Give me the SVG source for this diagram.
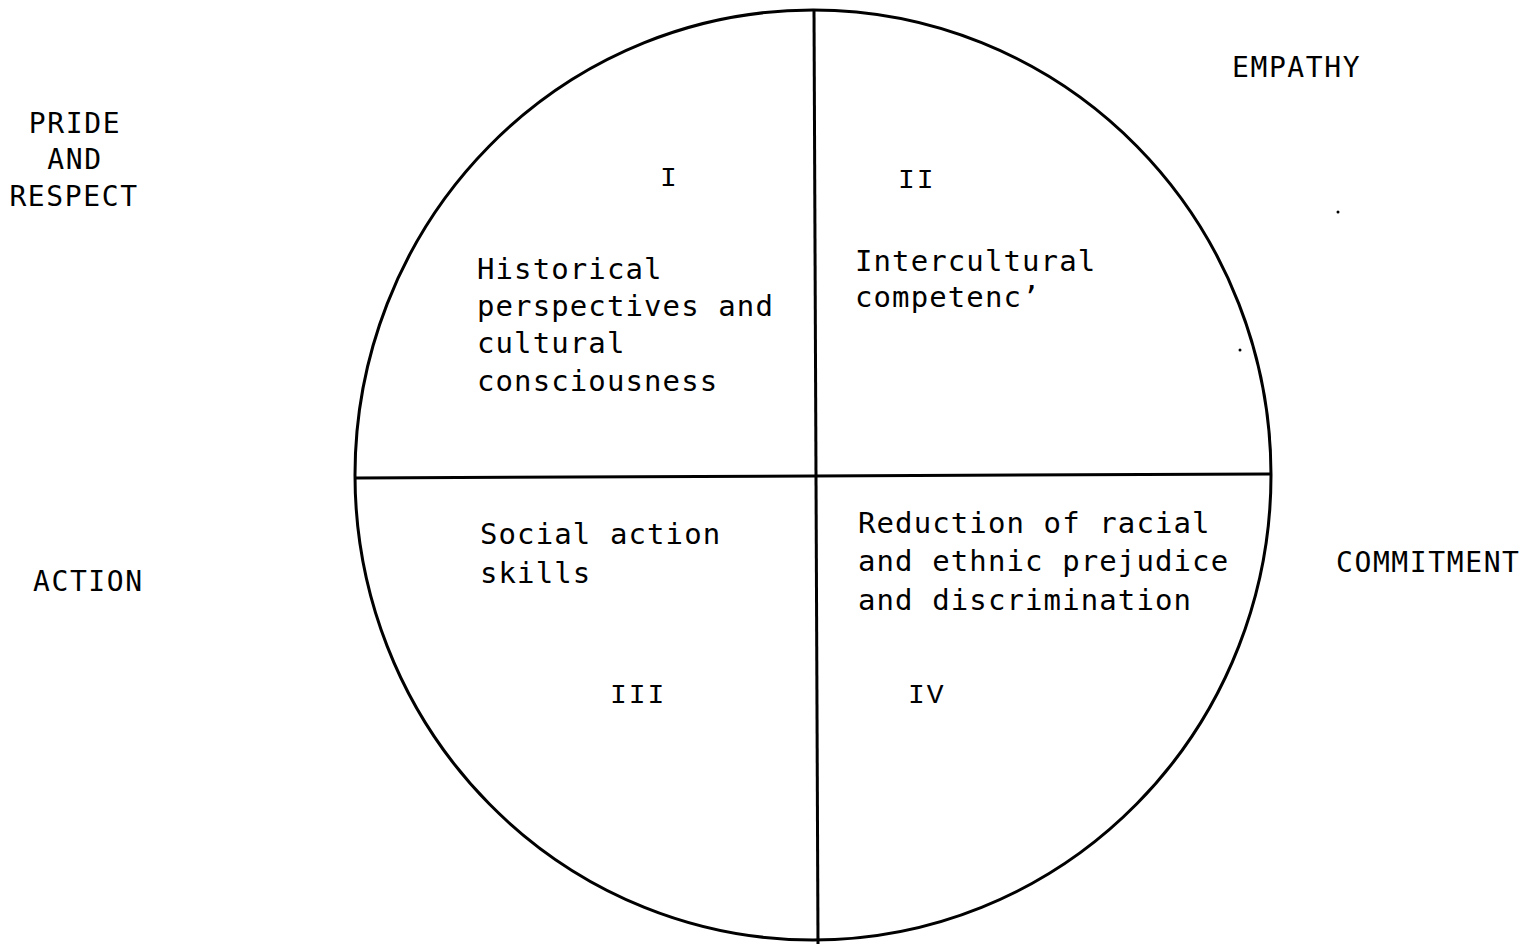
<svg xmlns="http://www.w3.org/2000/svg" width="1539" height="944" viewBox="0 0 1539 944">
<style>
.ln{fill:none;stroke:#000;stroke-width:3}
.t{font-family:"DejaVu Sans Mono","Liberation Mono",monospace;font-size:29px;letter-spacing:1.1px;fill:#000}
.c{font-family:"DejaVu Sans Mono","Liberation Mono",monospace;font-size:28px;letter-spacing:1.6px;fill:#000}
.r{font-family:"Liberation Mono","Courier New",monospace;font-size:28px;letter-spacing:2px;fill:#000}
</style>
<rect width="1539" height="944" fill="#fff"/>
<g id="circle">
<ellipse class="ln" cx="813" cy="475" rx="458" ry="465"/>
</g>
<g id="connectors">
<line class="ln" x1="814" y1="10" x2="818" y2="944"/>
<line class="ln" x1="356" y1="478" x2="1270" y2="474"/>
</g>
<g id="q1">
<text class="r" x="660" y="186">I</text>
<text class="t" x="477" y="279">Historical</text>
<text class="t" x="477" y="316">perspectives and</text>
<text class="t" x="477" y="353">cultural</text>
<text class="t" x="477" y="391">consciousness</text>
</g>
<g id="q2">
<text class="r" x="898" y="188">II</text>
<text class="t" x="855" y="271">Intercultural</text>
<text class="t" x="855" y="307">competenc’</text>
</g>
<g id="q3">
<text class="t" x="480" y="544">Social action</text>
<text class="t" x="480" y="583">skills</text>
<text class="r" x="610" y="703">III</text>
</g>
<g id="q4">
<text class="t" x="858" y="533">Reduction of racial</text>
<text class="t" x="858" y="571">and ethnic prejudice</text>
<text class="t" x="858" y="610">and discrimination</text>
<text class="r" x="908" y="703">IV</text>
</g>
<g id="outer">
<text class="c" x="75" y="133" text-anchor="middle">PRIDE</text>
<text class="c" x="75" y="169" text-anchor="middle">AND</text>
<text class="c" x="74" y="206" text-anchor="middle">RESPECT</text>
<text class="c" x="1232" y="77">EMPATHY</text>
<text class="c" x="33" y="591">ACTION</text>
<text class="c" x="1336" y="572">COMMITMENT</text>
</g>
<circle cx="1338" cy="212" r="1.5" fill="#000"/>
<circle cx="1240" cy="350" r="1.5" fill="#000"/>
</svg>
